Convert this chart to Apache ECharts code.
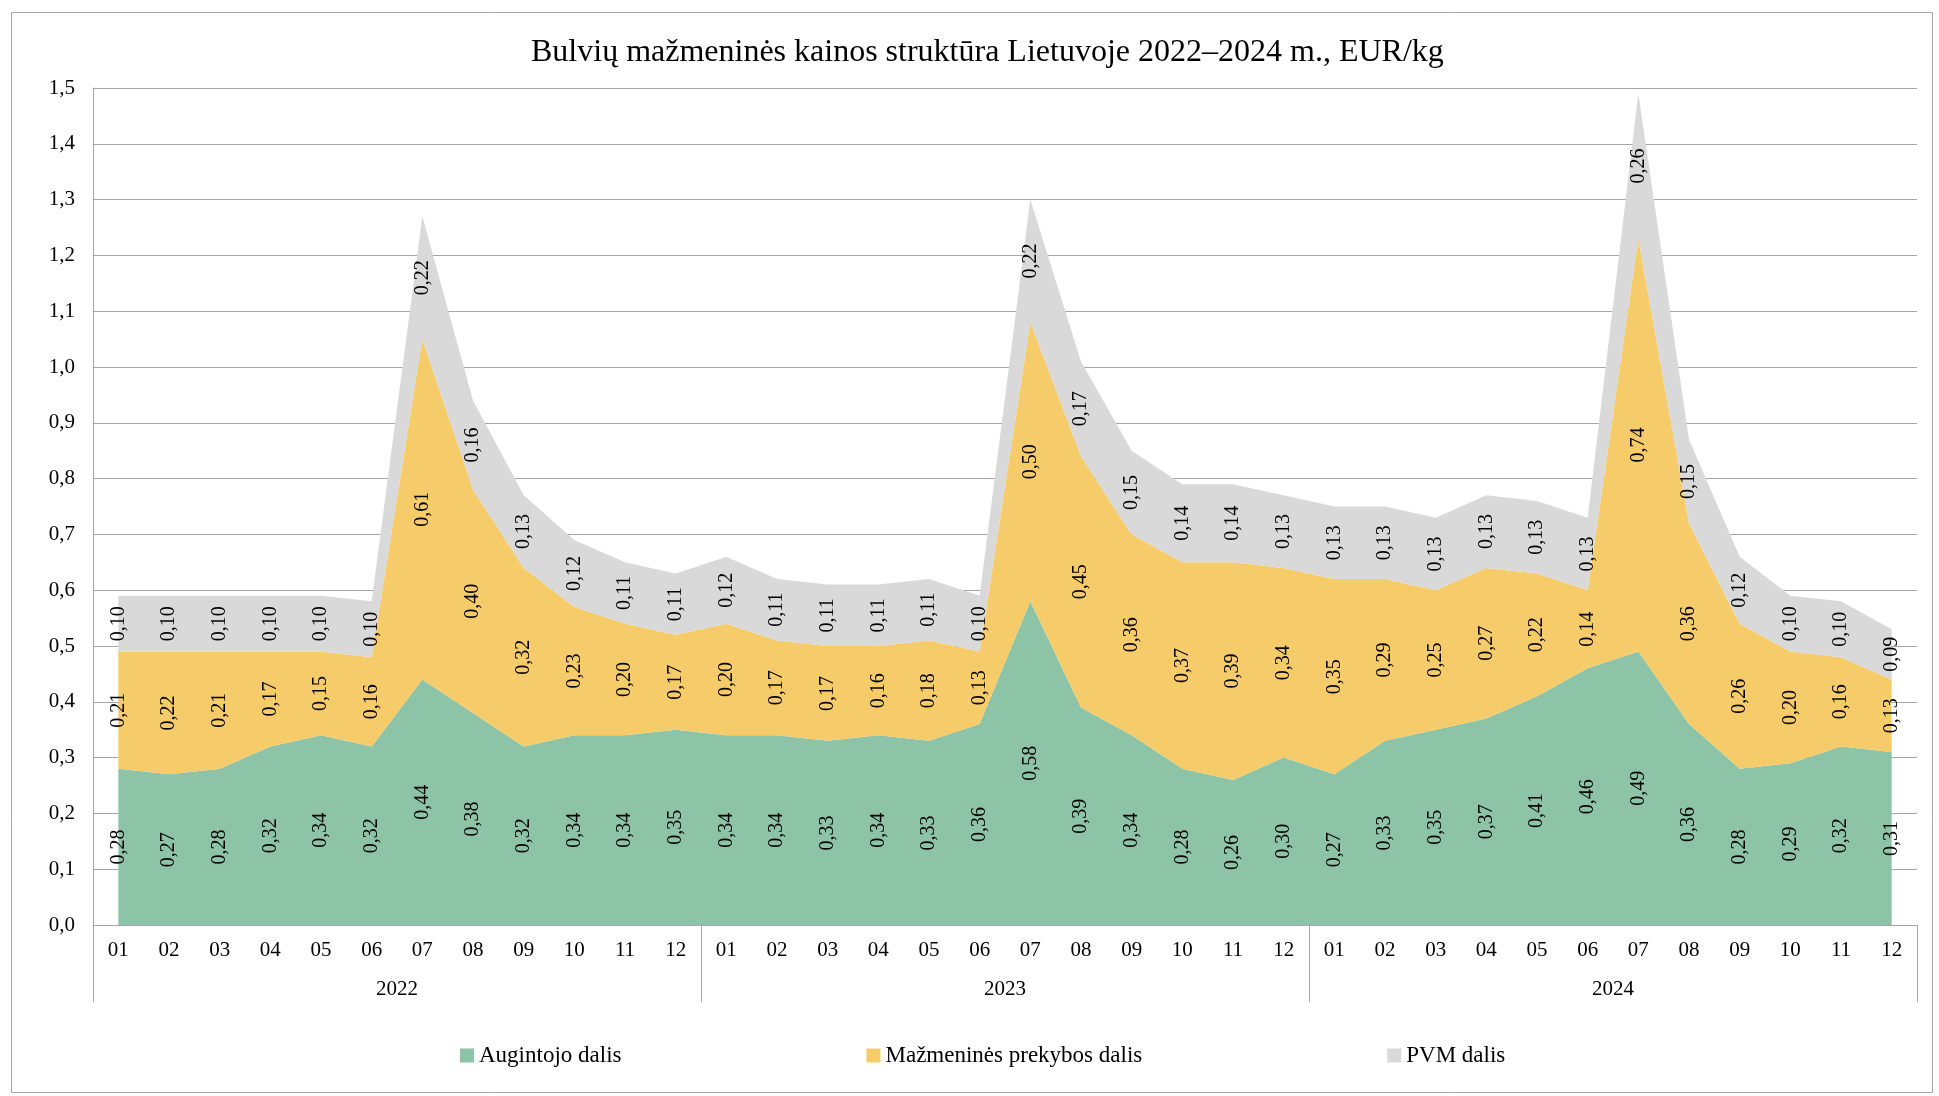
<!DOCTYPE html>
<html>
<head>
<meta charset="utf-8">
<script src="https://cdn.jsdelivr.net/npm/echarts@6/dist/echarts.min.js"></script>
<style>
html,body{margin:0;padding:0;background:#fff;}
#c{width:1939px;height:1096px;}
</style>
</head>
<body>
<div id="c"></div>
<script>
const months = ['01','02','03','04','05','06','07','08','09','10','11','12',
                '01','02','03','04','05','06','07','08','09','10','11','12',
                '01','02','03','04','05','06','07','08','09','10','11','12'];
const years = ['2022','2023','2024'];
const yTicks = [0,0.1,0.2,0.3,0.4,0.5,0.6,0.7,0.8,0.9,1.0,1.1,1.2,1.3,1.4,1.5];
const grower = [0.28,0.27,0.28,0.32,0.34,0.32,0.44,0.38,0.32,0.34,0.34,0.35,
                0.34,0.34,0.33,0.34,0.33,0.36,0.58,0.39,0.34,0.28,0.26,0.30,
                0.27,0.33,0.35,0.37,0.41,0.46,0.49,0.36,0.28,0.29,0.32,0.31];
const retail = [0.21,0.22,0.21,0.17,0.15,0.16,0.61,0.40,0.32,0.23,0.20,0.17,
                0.20,0.17,0.17,0.16,0.18,0.13,0.50,0.45,0.36,0.37,0.39,0.34,
                0.35,0.29,0.25,0.27,0.22,0.14,0.74,0.36,0.26,0.20,0.16,0.13];
const vat    = [0.10,0.10,0.10,0.10,0.10,0.10,0.22,0.16,0.13,0.12,0.11,0.11,
                0.12,0.11,0.11,0.11,0.11,0.10,0.22,0.17,0.15,0.14,0.14,0.13,
                0.13,0.13,0.13,0.13,0.13,0.13,0.26,0.15,0.12,0.10,0.10,0.09];
const names = ['Augintojo dalis','Mažmeninės prekybos dalis','PVM dalis'];
const colors = ['#8dc3a7','#f5cc69','#d9d9d9'];

const FONT = '"Liberation Serif", "Times New Roman", serif';
const fmt2 = v => Number(v).toFixed(2).replace('.', ',');

const chart = echarts.init(document.getElementById('c'), null, {renderer:'canvas'});
const series = [];
[grower, retail, vat].forEach((arr, i) => {
  series.push({
    name: names[i], type: 'line', stack: 'a', data: arr,
    symbol: 'none', lineStyle: {width: 0}, itemStyle: {color: colors[i]},
    areaStyle: {color: colors[i], opacity: 1}, silent: true, z: 2
  });
});
[grower, retail, vat].forEach((arr, i) => {
  series.push({
    name: 'lbl' + i, type: 'bar', stack: 'lbl', data: arr, barWidth: 20,
    itemStyle: {color: 'rgba(0,0,0,0)'}, silent: true, z: 5,
    label: {show: true, position: 'inside', rotate: 90, color: '#000',
            fontFamily: FONT, fontSize: 20, formatter: p => fmt2(p.value)}
  });
});

chart.setOption({
  animation: false,
  backgroundColor: '#fff',
  graphic: [{type:'rect', left: 9, top: 10, shape:{width:1921, height:1080},
             style:{fill:'none', stroke:'#a6a6a6', lineWidth:1}, z: -1}],
  title: {text: 'Bulvių mažmeninės kainos struktūra Lietuvoje 2022–2024 m., EUR/kg',
          left: 526, top: 32,
          textStyle: {fontFamily: FONT, fontSize: 32, fontWeight: 'normal', color: '#000'}},
  legend: {data: names, bottom: 24, left: 455, itemGap: 245, itemWidth: 14, itemHeight: 14,
           icon: 'rect', textStyle: {fontFamily: FONT, fontSize: 23, color: '#000'}},
  grid: {left: 93, right: 22, top: 88, bottom: 171},
  xAxis: [
    {type: 'category', data: months, boundaryGap: true, position: 'bottom',
     axisLine: {show: true, lineStyle: {color: '#a6a6a6'}},
     axisTick: {show: false},
     axisLabel: {interval: 0, margin: 15, color: '#000', fontFamily: FONT, fontSize: 21}},
    {type: 'category', data: years, boundaryGap: true, position: 'bottom',
     axisLine: {show: false},
     axisTick: {show: true, length: 77, interval: 0, lineStyle: {color: '#a6a6a6'}},
     axisLabel: {interval: 0, margin: 54, color: '#000', fontFamily: FONT, fontSize: 21}}
  ],
  yAxis: {type: 'value', min: yTicks[0], max: yTicks[yTicks.length-1], interval: 0.1,
          axisLine: {show: true, lineStyle: {color: '#a6a6a6'}},
          axisTick: {show: false},
          splitLine: {show: true, lineStyle: {color: '#a6a6a6'}},
          axisLabel: {margin: 18, color: '#000', fontFamily: FONT, fontSize: 21,
                      formatter: v => v.toFixed(1).replace('.', ',')}},
  series: series
});
</script>
</body>
</html>
